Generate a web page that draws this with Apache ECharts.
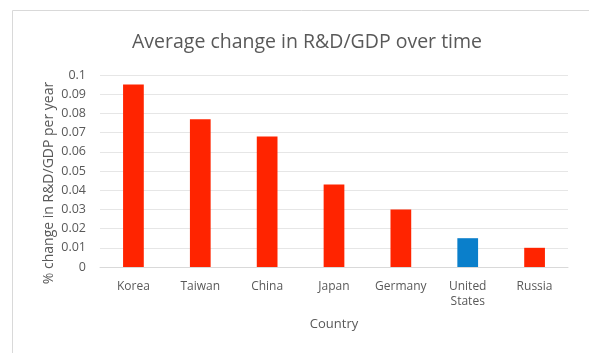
<!DOCTYPE html>
<html><head><meta charset="utf-8">
<script src="https://cdn.jsdelivr.net/npm/echarts@6/dist/echarts.min.js"></script>
<style>html,body{margin:0;padding:0;background:#fff}#c{width:589px;height:353px}</style>
</head><body><div id="c"></div>
<script>
const categories = ["Korea", "Taiwan", "China", "Japan", "Germany", "United\nStates", "Russia"];
const values = [0.095, 0.077, 0.068, 0.043, 0.030, 0.015, 0.010];
const barColors = ["#ff2400", "#ff2400", "#ff2400", "#ff2400", "#ff2400", "#0a7fcb", "#ff2400"];
const yTicks = [0, 0.01, 0.02, 0.03, 0.04, 0.05, 0.06, 0.07, 0.08, 0.09, 0.1];

const chart = echarts.init(document.getElementById('c'), null, {renderer: 'canvas'});
const font = "'Open Sans', sans-serif";
chart.setOption({
  animation: false,
  graphic: [{type: 'rect', shape: {x: 12.5, y: 10.5, width: 590, height: 360}, style: {fill: 'none', stroke: '#d9d9d9', lineWidth: 1}, silent: true}],
  title: {
    text: 'Average change in R&D/GDP over time',
    left: 302, top: 27, textAlign: 'center',
    textStyle: {fontFamily: font, fontSize: 19.5, fontWeight: 'normal', color: '#595959'}
  },
  grid: {left: 100, right: 21, top: 75, bottom: 86},
  xAxis: {
    type: 'category', data: categories,
    name: 'Country', nameLocation: 'middle', nameGap: 51,
    nameTextStyle: {fontFamily: font, fontSize: 13, color: '#595959'},
    axisLine: {lineStyle: {color: '#d9d9d9'}},
    axisTick: {show: false},
    axisLabel: {fontFamily: font, fontSize: 12, color: '#595959', margin: 12, lineHeight: 15, interval: 0}
  },
  yAxis: {
    type: 'value', min: yTicks[0], max: yTicks[yTicks.length - 1], interval: 0.01,
    name: '% change in R&D/GDP per year', nameLocation: 'middle', nameGap: 44, nameRotate: 90,
    nameMoveOverlap: false,
    nameTextStyle: {fontFamily: font, fontSize: 14, color: '#595959', padding: [0, 24, 0, 0]},
    axisLine: {show: false}, axisTick: {show: false},
    splitLine: {lineStyle: {color: '#e6e6e6'}},
    axisLabel: {fontFamily: font, fontSize: 12.5, color: '#595959', margin: 14,
      formatter: v => String(Math.round(v * 100) / 100)}
  },
  series: [{
    type: 'bar', barWidth: '31%',
    data: values.map((v, i) => ({value: v, itemStyle: {color: barColors[i]}}))
  }]
});
</script></body></html>
